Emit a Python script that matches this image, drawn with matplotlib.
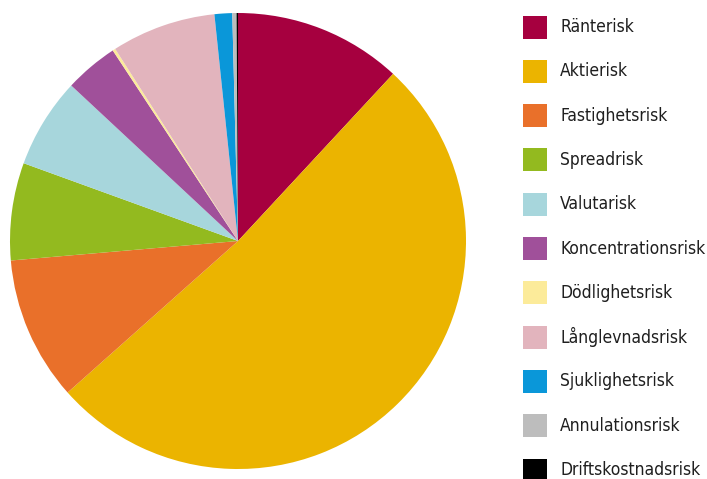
import matplotlib
matplotlib.use("Agg")
import matplotlib.pyplot as plt
from matplotlib.patches import Rectangle

categories = ["Ränterisk", "Aktierisk", "Fastighetsrisk", "Spreadrisk", "Valutarisk",
              "Koncentrationsrisk", "Dödlighetsrisk", "Långlevnadsrisk",
              "Sjuklighetsrisk", "Annulationsrisk", "Driftskostnadsrisk"]
values = [11.9, 51.5, 10.2, 6.9, 6.4, 3.8, 0.2, 7.4, 1.25, 0.3, 0.1]
colors = ["#A6003F", "#EBB400", "#E9702A", "#93BA1F", "#A7D6DC", "#A0509A",
          "#FCEB9A", "#E2B4BD", "#0A97D9", "#BDBDBD", "#000000"]

W, H = 707, 479
fig = plt.figure(figsize=(W / 100, H / 100), dpi=100)
fig.patch.set_facecolor("white")

cx, cy, r = 238, 241, 228
ax = fig.add_axes([(cx - r) / W, (H - cy - r) / H, 2 * r / W, 2 * r / H])
ax.pie(values, colors=colors, startangle=90, counterclock=False,
       wedgeprops=dict(linewidth=0))
ax.set_aspect("equal")
ax.set_xlim(-1, 1)
ax.set_ylim(-1, 1)
ax.axis("off")

y0, dy = 27, 44.3
for i, (lab, col) in enumerate(zip(categories, colors)):
    yc = y0 + i * dy
    fig.add_artist(Rectangle((523 / W, (H - yc - 11.5) / H), 24 / W, 23 / H,
                             transform=fig.transFigure, facecolor=col,
                             edgecolor="none"))
    fig.text(560 / W, (H - yc) / H, lab, va="center", ha="left",
             fontsize=12.5, color="#1f1f1f", fontstretch="condensed",
             family=["DejaVu Sans"])

fig.savefig("out.png", dpi=100)
